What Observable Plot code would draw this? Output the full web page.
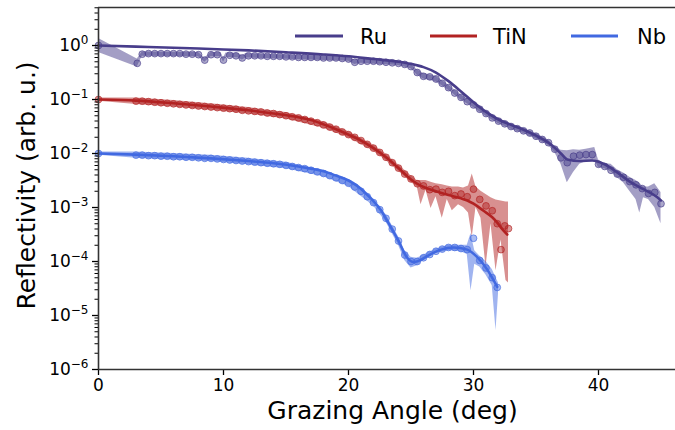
<!DOCTYPE html>
<html><head><meta charset="utf-8">
<script src="https://cdn.jsdelivr.net/npm/d3@7"></script>
<script src="https://cdn.jsdelivr.net/npm/@observablehq/plot@0.6"></script>
<style>
body{margin:0;background:#fff;}
#wrap{width:675px;height:430px;}
</style></head><body><div id="wrap"></div>
<script>
// ---- data (y values stored as log10 of reflectivity) ----
const xTicks = [0, 10, 20, 30, 40];
const yDecades = [-6, -5, -4, -3, -2, -1, 0];
const seriesNames = ["Ru", "TiN", "Nb"];
const seriesColors = ["#483D8B", "#B22222", "#4169E1"];

const ruPoints = [[0,0],[3.1,-0.33],[3.5,-0.16],[4,-0.15],[4.5,-0.15],[5,-0.15],[5.5,-0.15],[6,-0.15],[6.5,-0.15],[7,-0.16],[7.5,-0.16],[8,-0.17],[8.5,-0.27],[9,-0.17],[9.5,-0.17],[10,-0.27],[10.5,-0.18],[11,-0.19],[11.5,-0.23],[12,-0.19],[12.5,-0.19],[13,-0.19],[13.5,-0.2],[14,-0.2],[14.5,-0.2],[15,-0.21],[15.5,-0.21],[16,-0.22],[16.5,-0.22],[17,-0.22],[17.5,-0.22],[18,-0.23],[18.5,-0.23],[19,-0.23],[19.5,-0.24],[20,-0.25],[20.5,-0.31],[21,-0.29],[21.5,-0.29],[22,-0.29],[22.5,-0.3],[23,-0.31],[23.5,-0.32],[24,-0.33],[24.5,-0.35],[25,-0.39],[25.5,-0.5],[26,-0.57],[26.5,-0.58],[27,-0.62],[27.5,-0.7],[28,-0.78],[28.5,-0.88],[29,-0.96],[29.5,-1.04],[30,-1.1],[30.5,-1.18],[31,-1.26],[31.5,-1.34],[32,-1.4],[32.5,-1.45],[33,-1.5],[33.5,-1.54],[34,-1.58],[34.5,-1.62],[35,-1.68],[35.5,-1.74],[36,-1.8],[36.5,-1.92],[37,-2.08],[37.5,-2.17],[38,-2.05],[38.5,-2.03],[39,-2.02],[39.5,-2.02],[40,-2.2],[40.5,-2.24],[41,-2.31],[41.5,-2.38],[42,-2.44],[42.5,-2.52],[43,-2.58],[43.5,-2.65],[44,-2.74],[44.5,-2.72],[45,-2.93]];
const ruBand = [[0,-0.13,0.13],[3.1,-0.4,-0.25],[3.5,-0.2,-0.12],[8,-0.21,-0.13],[8.5,-0.31,-0.23],[9,-0.21,-0.13],[9.8,-0.21,-0.13],[10,-0.31,-0.23],[10.2,-0.22,-0.14],[10.5,-0.22,-0.14],[11.2,-0.23,-0.15],[11.5,-0.27,-0.19],[11.8,-0.23,-0.15],[20,-0.29,-0.21],[20.5,-0.35,-0.27],[21,-0.33,-0.25],[24,-0.37,-0.29],[25,-0.43,-0.35],[25.5,-0.55,-0.45],[26,-0.62,-0.52],[27,-0.67,-0.57],[28,-0.83,-0.73],[29,-1.01,-0.91],[30,-1.15,-1.05],[31,-1.31,-1.21],[32,-1.45,-1.35],[33,-1.55,-1.45],[34,-1.63,-1.53],[35,-1.73,-1.63],[36,-1.85,-1.75],[36.5,-1.98,-1.86],[37,-2.2,-1.94],[37.5,-2.54,-1.95],[38,-2.35,-1.93],[38.5,-2.2,-1.94],[39,-2.15,-1.92],[39.7,-2.12,-1.89],[40,-2.26,-2.12],[40.5,-2.28,-2.19],[41,-2.34,-2.2],[41.5,-2.45,-2.3],[42,-2.54,-2.36],[42.5,-2.7,-2.44],[43,-2.85,-2.5],[43.3,-3.1,-2.55],[43.6,-2.82,-2.62],[44,-2.85,-2.62],[44.5,-3.0,-2.56],[45,-3.3,-2.72]];
const ruFit = [[0,0],[3,-0.02],[6,-0.04],[9,-0.065],[12,-0.09],[15,-0.125],[18,-0.165],[20,-0.2],[22,-0.25],[24,-0.3],[25,-0.34],[26,-0.4],[27,-0.5],[28,-0.66],[29,-0.85],[30,-1.05],[31,-1.23],[32,-1.37],[33,-1.47],[34,-1.56],[35,-1.67],[36,-1.8],[37,-2.0],[37.5,-2.11],[38.5,-2.14],[39.5,-2.13],[40.4,-2.19],[41.5,-2.35],[42.5,-2.52],[43.6,-2.66],[44.7,-2.81],[45,-2.87]];

const tinPoints = [[0,-1],[3,-1.03],[3.5,-1.03],[4,-1.04],[4.5,-1.05],[5,-1.06],[5.5,-1.07],[6,-1.08],[6.5,-1.09],[7,-1.1],[7.5,-1.11],[8,-1.12],[8.5,-1.13],[9,-1.14],[9.5,-1.15],[10,-1.16],[10.5,-1.17],[11,-1.18],[11.5,-1.2],[12,-1.21],[12.5,-1.22],[13,-1.23],[13.5,-1.25],[14,-1.26],[14.5,-1.28],[15,-1.3],[15.5,-1.32],[16,-1.34],[16.5,-1.37],[17,-1.4],[17.5,-1.43],[18,-1.47],[18.5,-1.51],[19,-1.55],[19.5,-1.6],[20,-1.65],[20.5,-1.7],[21,-1.76],[21.5,-1.83],[22,-1.9],[22.5,-1.98],[23,-2.07],[23.5,-2.17],[24,-2.27],[24.5,-2.38],[25,-2.47],[25.5,-2.56],[26,-2.6],[26.5,-2.67],[27,-2.66],[27.5,-2.72],[28,-2.7],[28.5,-2.78],[29,-2.75],[29.5,-2.8],[30,-2.66],[30.5,-2.85],[31,-2.97],[31.5,-3.06],[31.9,-3.3],[32.2,-3.78],[32.5,-3.34],[32.8,-3.39]];
const tinBand = [[0,-1.03,-0.97],[3,-1.09,-0.97],[6,-1.14,-1.02],[9,-1.2,-1.08],[12,-1.27,-1.15],[15,-1.36,-1.24],[18,-1.53,-1.41],[20,-1.71,-1.59],[22,-1.96,-1.84],[23,-2.13,-2.01],[24,-2.33,-2.21],[25,-2.53,-2.41],[25.5,-2.62,-2.5],[25.8,-2.95,-2.5],[26.2,-2.68,-2.5],[26.6,-3.02,-2.53],[27,-2.8,-2.56],[27.5,-3.2,-2.58],[27.9,-2.85,-2.6],[28.3,-3.06,-2.62],[28.8,-2.95,-2.62],[29.2,-3.0,-2.64],[29.6,-3.1,-2.6],[29.9,-3.55,-2.38],[30.2,-3.0,-2.62],[30.6,-3.2,-2.7],[31,-4.1,-2.76],[31.4,-3.3,-2.82],[31.8,-4.17,-2.86],[32.2,-3.6,-2.88],[32.6,-4.35,-2.9],[32.8,-4.4,-2.9]];
const tinFit = [[0,-1],[3,-1.02],[6,-1.07],[9,-1.13],[12,-1.2],[14,-1.26],[16,-1.33],[17,-1.38],[18,-1.46],[19,-1.55],[20,-1.65],[21,-1.76],[22,-1.9],[23,-2.07],[24,-2.27],[25,-2.48],[25.5,-2.56],[26,-2.62],[27,-2.7],[28,-2.77],[29,-2.83],[29.5,-2.87],[30,-2.93],[30.8,-3.06],[31.5,-3.18],[31.9,-3.28],[32.3,-3.4],[32.7,-3.5]];

const nbPoints = [[0,-2],[3,-2.03],[3.5,-2.03],[4,-2.04],[4.5,-2.04],[5,-2.05],[5.5,-2.05],[6,-2.06],[6.5,-2.06],[7,-2.07],[7.5,-2.07],[8,-2.08],[8.5,-2.09],[9,-2.09],[9.5,-2.1],[10,-2.11],[10.5,-2.12],[11,-2.13],[11.5,-2.14],[12,-2.15],[12.5,-2.16],[13,-2.17],[13.5,-2.18],[14,-2.19],[14.5,-2.2],[15,-2.22],[15.5,-2.24],[16,-2.26],[16.5,-2.28],[17,-2.31],[17.5,-2.34],[18,-2.37],[18.5,-2.41],[19,-2.45],[19.5,-2.5],[20,-2.55],[20.5,-2.62],[21,-2.7],[21.5,-2.8],[22,-2.91],[22.5,-3.04],[23,-3.2],[23.5,-3.4],[24,-3.62],[24.5,-3.88],[25,-4],[25.5,-4],[26,-3.93],[26.5,-3.87],[27,-3.81],[27.5,-3.77],[28,-3.74],[28.5,-3.74],[29,-3.76],[29.5,-3.78],[30,-3.57],[30.5,-3.98],[31,-4.12],[31.5,-4.3],[31.9,-4.48]];
const nbBand = [[0,-2.03,-1.97],[3,-2.09,-1.97],[6,-2.12,-2.0],[9,-2.15,-2.03],[12,-2.21,-2.09],[15,-2.28,-2.16],[18,-2.43,-2.31],[20,-2.61,-2.49],[22,-2.97,-2.85],[23,-3.27,-3.13],[24,-3.7,-3.54],[24.5,-3.98,-3.8],[25,-4.12,-3.92],[25.5,-4.08,-3.94],[26,-3.98,-3.88],[27,-3.85,-3.77],[28,-3.8,-3.7],[29,-3.82,-3.7],[29.5,-3.87,-3.7],[29.8,-4.54,-3.48],[30.1,-4.05,-3.8],[30.5,-4.1,-3.9],[31,-4.25,-4.0],[31.5,-4.45,-4.15],[31.8,-5.28,-4.3],[32,-4.6,-4.4]];
const nbFit = [[0,-2],[3,-2.02],[6,-2.05],[9,-2.09],[12,-2.14],[14,-2.18],[16,-2.24],[17,-2.28],[18,-2.33],[19,-2.41],[20,-2.5],[20.7,-2.6],[21.4,-2.74],[22,-2.88],[22.6,-3.05],[23.1,-3.25],[24,-3.62],[24.7,-3.93],[25.2,-4.01],[25.8,-3.97],[26.3,-3.9],[27.4,-3.78],[28.4,-3.74],[29.5,-3.78],[30.3,-3.92],[31.1,-4.15],[31.9,-4.47]];

// ---- tables built from the arrays ----
const toPts = a => a.map(([x, e]) => ({x, y: 10 ** e}));
const toBand = a => a.map(([x, lo, hi]) => ({x, lo: 10 ** lo, hi: 10 ** hi}));
const series = [
  {points: toPts(ruPoints), band: toBand(ruBand), fit: toPts(ruFit)},
  {points: toPts(tinPoints), band: toBand(tinBand), fit: toPts(tinFit)},
  {points: toPts(nbPoints), band: toBand(nbBand), fit: toPts(nbFit)}
];
const yMajor = yDecades.map(e => 10 ** e);
const yMinor = [];
for (const e of yDecades) for (const m of [2,3,4,5,6,7,8,9]) if (m * 10 ** e <= 5.06) yMinor.push(m * 10 ** e);

const FONT = "DejaVu Sans";
const seriesMarks = series.flatMap((s, i) => [
  Plot.areaY(s.band, {x: "x", y1: "lo", y2: "hi", fill: seriesColors[i], fillOpacity: 0.5}),
  Plot.dot(s.points, {x: "x", y: "y", r: 3.4, fill: seriesColors[i], fillOpacity: 0.45, stroke: seriesColors[i], strokeOpacity: 0.65, strokeWidth: 1}),
  Plot.line(s.fit, {x: "x", y: "y", stroke: seriesColors[i], strokeWidth: 2.6, curve: "monotone-x"})
]);

const chart = Plot.plot({
  width: 675, height: 430,
  marginLeft: 98, marginRight: 0, marginTop: 7, marginBottom: 61,
  style: {fontFamily: FONT, fontSize: "17px", color: "black", background: "white", overflow: "visible"},
  x: {domain: [0, 46.16]},
  y: {type: "log", domain: [1e-6, 5.06]},
  marks: [
    ...seriesMarks,
    Plot.axisX({ticks: xTicks, tickSize: 6, tickPadding: 3, fontSize: 17, label: null, strokeWidth: 1.3}),
    Plot.axisY({ticks: yMajor, tickSize: 6, tickPadding: 4, fontSize: 17, label: null, strokeWidth: 1.3,
      tickFormat: d => "10|" + String(Math.round(Math.log10(d))).replace("-", "\u2212")}),
    Plot.axisY({ticks: yMinor, tickSize: 3.5, tickFormat: () => "", label: null, strokeWidth: 1}),
    Plot.ruleX([0], {stroke: "#333", strokeWidth: 1.6}),
    Plot.ruleY([1e-6, 5.06], {stroke: "#333", strokeWidth: 1.6}),
    Plot.text(["Grazing Angle (deg)"], {text: d => d, frameAnchor: "bottom", textAnchor: "middle", dx: 5.5, dy: 41, fontSize: 25, lineAnchor: "middle", fill: "black"}),
    Plot.text(["Reflectivity (arb. u.)"], {text: d => d, frameAnchor: "left", textAnchor: "middle", rotate: -90, dx: -72, dy: -3, fontSize: 25, lineAnchor: "middle", fill: "black"})
  ]
});

// superscript exponents on the y tick labels
const ns = "http://www.w3.org/2000/svg";
chart.querySelectorAll('g[aria-label="y-axis tick label"] text').forEach(t => {
  const parts = t.textContent.split("|");
  if (parts.length < 2) return;
  t.textContent = parts[0];
  const ts = document.createElementNS(ns, "tspan");
  ts.setAttribute("dy", "-7");
  ts.setAttribute("font-size", "12");
  ts.textContent = parts[1];
  t.appendChild(ts);
});

// legend (inside the plot, top right)
const legendItems = [
  {name: seriesNames[0], color: seriesColors[0], x1: 295, x2: 343, tx: 360},
  {name: seriesNames[1], color: seriesColors[1], x1: 430, x2: 477, tx: 493},
  {name: seriesNames[2], color: seriesColors[2], x1: 571, x2: 618, tx: 637}
];
const lg = d3.select(chart).append("g").attr("font-family", FONT).attr("font-size", 21).attr("text-anchor", "start");
for (const it of legendItems) {
  lg.append("line").attr("x1", it.x1).attr("x2", it.x2).attr("y1", 36).attr("y2", 36)
    .attr("stroke", it.color).attr("stroke-width", 3);
  lg.append("text").attr("x", it.tx).attr("y", 44).attr("fill", "black").attr("text-anchor", "start").text(it.name);
}

document.getElementById("wrap").appendChild(chart);
</script></body></html>
